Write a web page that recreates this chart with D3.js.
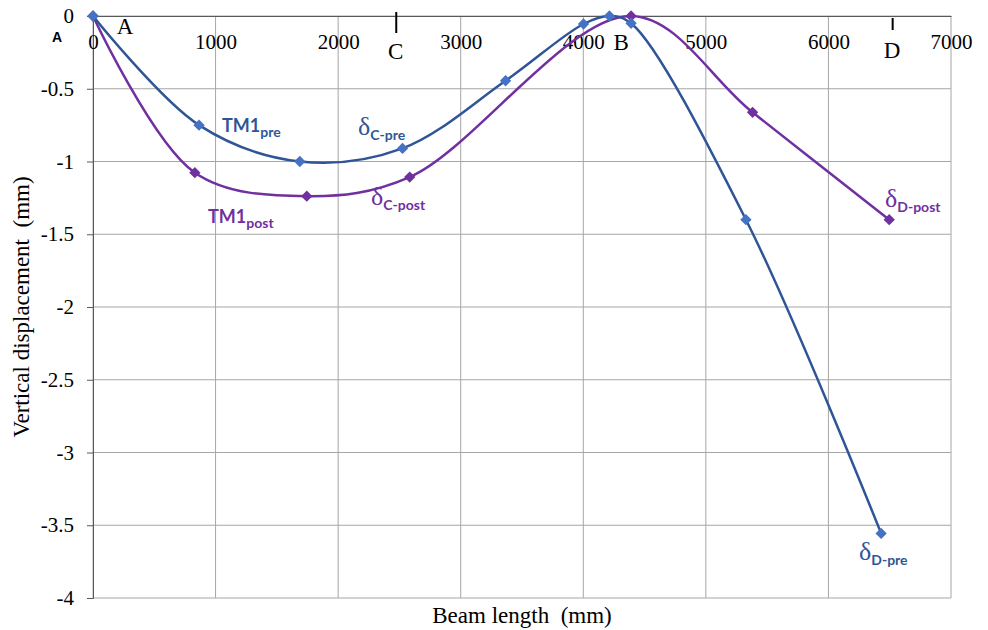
<!DOCTYPE html>
<html>
<head>
<meta charset="utf-8">
<script src="https://cdn.jsdelivr.net/npm/d3@7"></script>
<style>
  body { margin: 0; background: #fff; }
  svg { display: block; }
  .serif { font-family: "Liberation Serif", "Times New Roman", serif; }
  .calibri { font-family: Lato, "Open Sans", sans-serif; font-weight: bold; }
</style>
</head>
<body>
<svg id="chart" width="988" height="630"></svg>
<script>
// beam length (mm) and vertical displacement (mm)
const preX = [0, 865, 1687, 2525, 3366, 4002, 4213, 4390, 5327, 6430];
const preY = [0, -0.75, -1.0, -0.91, -0.445, -0.055, 0, -0.05, -1.40, -3.556];
const postX = [0, 831, 1744, 2584, 4390, 5381, 6496];
const postY = [0, -1.077, -1.238, -1.107, 0, -0.662, -1.40];

const xTicks = [0, 1000, 2000, 3000, 4000, 5000, 6000, 7000];
const yTicks = [0, -0.5, -1, -1.5, -2, -2.5, -3, -3.5, -4];

// support letters along the beam
const supports = [
    { name: "A", x: 261, dy: 18, mark: false },
    { name: "C", x: 2470, dy: 43, mark: true },
    { name: "B", x: 4310, dy: 34, mark: false },
    { name: "D", x: 6520, dy: 42, mark: true }
];

const blueLine = "#2f5597";
const blueMark = "#4472c4";
const purple = "#7030a0";

const margin = { top: 16, right: 37, bottom: 32, left: 93 };
const width = 988 - margin.left - margin.right;
const height = 630 - margin.top - margin.bottom;

const svg = d3.select("#chart");
const g = svg.append("g").attr("transform", `translate(${margin.left}, ${margin.top})`);

const x = d3.scaleLinear().domain([0, 7000]).range([0, width]);
const y = d3.scaleLinear().domain([-4, 0]).range([height, 0]);

// grid
g.append("g").selectAll("line")
    .data(xTicks)
    .join("line")
    .attr("x1", d => x(d)).attr("x2", d => x(d))
    .attr("y1", 0).attr("y2", height)
    .attr("stroke", "#a6a6a6").attr("stroke-width", 1);

g.append("g").selectAll("line")
    .data(yTicks)
    .join("line")
    .attr("x1", 0).attr("x2", width)
    .attr("y1", d => y(d)).attr("y2", d => y(d))
    .attr("stroke", "#a6a6a6").attr("stroke-width", 1);

// y axis (left)
const yAxis = g.append("g")
    .call(d3.axisLeft(y).tickValues(yTicks).tickSize(6).tickPadding(13).tickFormat(d => String(d)));
yAxis.attr("font-family", null).attr("font-size", null);
yAxis.select(".domain").attr("stroke", "#595959");
yAxis.selectAll(".tick line").attr("stroke", "#595959");
yAxis.selectAll("text")
    .attr("class", "serif")
    .style("font-size", "21px").attr("fill", "#000");

// x axis sits on the zero line, labels below it inside the plot
const xAxis = g.append("g")
    .call(d3.axisBottom(x).tickValues(xTicks).tickSize(0).tickPadding(18).tickFormat(d => String(d)));
xAxis.attr("font-family", null).attr("font-size", null);
xAxis.select(".domain").attr("stroke", "#595959");
xAxis.selectAll("text")
    .attr("class", "serif")
    .style("font-size", "21px").attr("fill", "#000");

// support labels
g.append("g").selectAll("text")
    .data(supports)
    .join("text")
    .attr("class", "serif")
    .attr("x", d => x(d.x))
    .attr("y", d => d.dy)
    .attr("text-anchor", "middle")
    .style("font-size", "23px")
    .text(d => d.name);

g.append("g").selectAll("line")
    .data(supports.filter(d => d.mark))
    .join("line")
    .attr("x1", d => x(d.x) + 0.5).attr("x2", d => x(d.x) + 0.5)
    .attr("y1", d => d.name === "C" ? -4 : 2)
    .attr("y2", d => d.name === "C" ? 17 : 14)
    .attr("stroke", "#000").attr("stroke-width", 2);

g.append("text")
    .attr("x", -36).attr("y", 26)
    .attr("text-anchor", "middle")
    .style("font-family", "'Liberation Sans', Arial, sans-serif")
    .style("font-weight", "bold").style("font-size", "14px")
    .text("A");

// series
const pre = preX.map((d, i) => ({ x: d, y: preY[i] }));
const post = postX.map((d, i) => ({ x: d, y: postY[i] }));

const line = d3.line()
    .x(d => x(d.x))
    .y(d => y(d.y))
    .curve(d3.curveCatmullRom.alpha(0.5));

const diamond = d3.symbol().type(d3.symbolSquare).size(64);

function drawSeries(data, lineColor, markColor) {
    g.append("path")
        .datum(data)
        .attr("d", line)
        .attr("fill", "none")
        .attr("stroke", lineColor)
        .attr("stroke-width", 2.5);
    g.append("g").selectAll("path")
        .data(data)
        .join("path")
        .attr("d", diamond)
        .attr("transform", d => `translate(${x(d.x)}, ${y(d.y)}) rotate(45)`)
        .attr("fill", markColor);
}

drawSeries(post, purple, purple);
drawSeries(pre, blueLine, blueMark);

// annotations
const notes = [
    { main: "TM1", sub: "pre", x: 222, y: 132, greek: false, color: blueLine },
    { main: "TM1", sub: "post", x: 208, y: 223, greek: false, color: purple },
    { main: "δ", sub: "C-pre", x: 358, y: 135, greek: true, color: blueLine },
    { main: "δ", sub: "C-post", x: 371, y: 205, greek: true, color: purple },
    { main: "δ", sub: "D-post", x: 885, y: 207, greek: true, color: purple },
    { main: "δ", sub: "D-pre", x: 859, y: 560, greek: true, color: blueLine }
];

const noteText = svg.append("g").selectAll("text")
    .data(notes)
    .join("text")
    .attr("x", d => d.x)
    .attr("y", d => d.y)
    .attr("fill", d => d.color);

noteText.append("tspan")
    .attr("class", d => d.greek ? "serif" : "calibri")
    .style("font-size", d => d.greek ? "26px" : "18px")
    .text(d => d.main);

noteText.append("tspan")
    .attr("class", "calibri")
    .attr("dy", 5)
    .style("font-size", "14px")
    .text(d => d.sub);

// axis titles
svg.append("text")
    .attr("class", "serif")
    .attr("x", margin.left + x(3500))
    .attr("y", 623)
    .attr("text-anchor", "middle")
    .style("font-size", "23px")
    .text("Beam length\u00a0 (mm)");

svg.append("text")
    .attr("class", "serif")
    .attr("transform", "rotate(-90)")
    .attr("x", -307)
    .attr("y", 29)
    .attr("text-anchor", "middle")
    .style("font-size", "23px")
    .text("Vertical displacement\u00a0 (mm)");
</script>
</body>
</html>
